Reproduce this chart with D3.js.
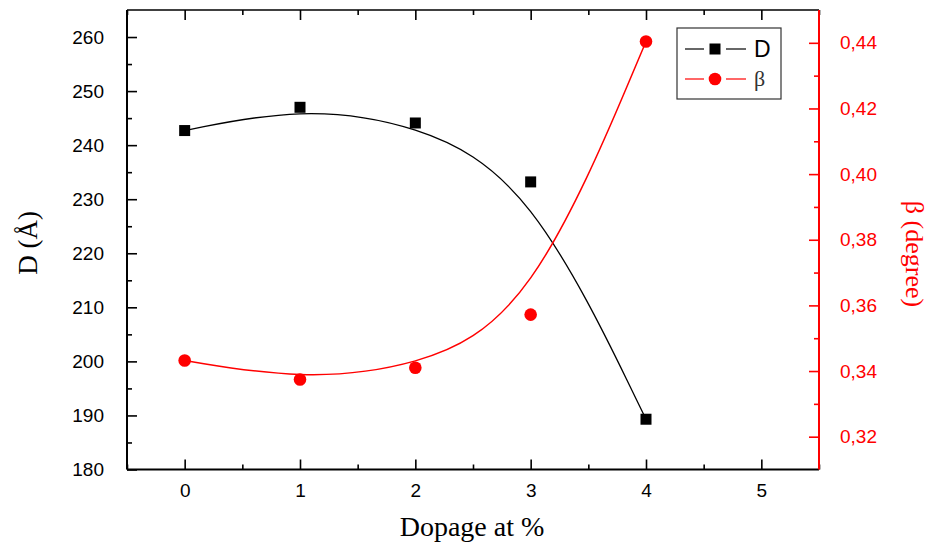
<!DOCTYPE html>
<html>
<head>
<meta charset="utf-8">
<script src="https://cdn.jsdelivr.net/npm/d3@7"></script>
<style>
  body { margin: 0; background: #fff; }
  svg { display: block; }
</style>
</head>
<body>
<svg width="933" height="545"></svg>
<script>
// datos
var dopage = [0, 1, 2, 3, 4];
var dValues = [242.7, 247.0, 244.1, 233.2, 189.3];
var betaValues = [0.3432, 0.3374, 0.3410, 0.3572, 0.4404];

var xTicks = [0, 1, 2, 3, 4, 5];
var yTicks = [180, 190, 200, 210, 220, 230, 240, 250, 260];
var y2Ticks = [0.32, 0.34, 0.36, 0.38, 0.40, 0.42, 0.44];

const M = { TOP: 10, BOTTOM: 75.5, LEFT: 127, RIGHT: 114 };
var width = 933 - M.LEFT - M.RIGHT;
var height = 545 - M.TOP - M.BOTTOM;

var svg = d3.select("svg");
var g = svg.append("g")
    .attr("transform", "translate(" + M.LEFT + "," + M.TOP + ")");

// escalas
var x = d3.scaleLinear().domain([-0.5, 5.5]).range([0, width]);
var y = d3.scaleLinear().domain([180, 265]).range([height, 0]);
var y2 = d3.scaleLinear().domain([0.31, 0.45]).range([height, 0]);

var tickFont = "'Liberation Sans', Arial, sans-serif";
var serif = "'Liberation Serif', 'Times New Roman', serif";

function styleAxis(sel, color, fs) {
  sel.select(".domain").remove();
  sel.selectAll("line").attr("stroke", color).attr("stroke-width", 1.6);
  sel.selectAll("text").attr("fill", color)
     .style("font-family", tickFont).style("font-size", fs + "px");
}

// minor ticks
var xMinor = d3.range(-0.5, 5.51, 0.5).filter(function(d) { return d % 1 !== 0; });
var yMinor = d3.range(185, 261, 10);
var y2Minor = [0.33, 0.35, 0.37, 0.39, 0.41, 0.43];

// eje inferior
var gx = g.append("g").attr("transform", "translate(0," + height + ")")
  .call(d3.axisBottom(x).tickValues(xTicks).tickFormat(d3.format("d"))
        .tickSizeInner(-10).tickSizeOuter(0).tickPadding(14));
styleAxis(gx, "#000", 19);
g.append("g").attr("transform", "translate(0," + height + ")")
  .call(d3.axisBottom(x).tickValues(xMinor).tickFormat("").tickSizeInner(-5).tickSizeOuter(0))
  .call(function(s) { styleAxis(s, "#000", 19); });

// eje superior
var gxt = g.append("g")
  .call(d3.axisTop(x).tickValues(xTicks).tickFormat("").tickSizeInner(-10).tickSizeOuter(0));
styleAxis(gxt, "#000", 19);
g.append("g")
  .call(d3.axisTop(x).tickValues(xMinor).tickFormat("").tickSizeInner(-5).tickSizeOuter(0))
  .call(function(s) { styleAxis(s, "#000", 19); });

// eje izquierdo
var gy = g.append("g")
  .call(d3.axisLeft(y).tickValues(yTicks).tickFormat(d3.format("d"))
        .tickSizeInner(-10).tickSizeOuter(0).tickPadding(23));
styleAxis(gy, "#000", 19);
g.append("g")
  .call(d3.axisLeft(y).tickValues(yMinor).tickFormat("").tickSizeInner(-5).tickSizeOuter(0))
  .call(function(s) { styleAxis(s, "#000", 19); });

// eje derecho
var comma = function(d) { return d3.format(".2f")(d).replace(".", ","); };
var gy2 = g.append("g").attr("transform", "translate(" + width + ",0)")
  .call(d3.axisRight(y2).tickValues(y2Ticks).tickFormat(comma)
        .tickSizeInner(-10).tickSizeOuter(0).tickPadding(21));
styleAxis(gy2, "#ff0000", 19);
g.append("g").attr("transform", "translate(" + width + ",0)")
  .call(d3.axisRight(y2).tickValues(y2Minor).tickFormat("").tickSizeInner(-5).tickSizeOuter(0))
  .call(function(s) { styleAxis(s, "#ff0000", 19); });

// lineas de los ejes
g.append("line").attr("x1", 0).attr("x2", width).attr("y1", 0).attr("y2", 0)
  .attr("stroke", "#000").attr("stroke-width", 1.6);
g.append("line").attr("x1", 0).attr("x2", width).attr("y1", height).attr("y2", height)
  .attr("stroke", "#000").attr("stroke-width", 2);
g.append("line").attr("x1", 0).attr("x2", 0).attr("y1", 0).attr("y2", height)
  .attr("stroke", "#000").attr("stroke-width", 2);
g.append("line").attr("x1", width).attr("x2", width).attr("y1", 0).attr("y2", height)
  .attr("stroke", "#ff0000").attr("stroke-width", 2);

// curvas (B-spline)
var lineD = d3.line().curve(d3.curveBasis)
  .x(function(d, i) { return x(dopage[i]); })
  .y(function(d) { return y(d); });
var lineB = d3.line().curve(d3.curveBasis)
  .x(function(d, i) { return x(dopage[i]); })
  .y(function(d) { return y2(d); });

g.append("path").datum(dValues).attr("d", lineD)
  .attr("fill", "none").attr("stroke", "#000").attr("stroke-width", 1.3);
g.append("path").datum(betaValues).attr("d", lineB)
  .attr("fill", "none").attr("stroke", "#ff0000").attr("stroke-width", 1.5);

// marcadores
g.selectAll(".sq").data(dValues).enter().append("rect")
  .attr("x", function(d, i) { return x(dopage[i]) - 5.5; })
  .attr("y", function(d) { return y(d) - 5.5; })
  .attr("width", 11).attr("height", 11).attr("fill", "#000");
g.selectAll(".ci").data(betaValues).enter().append("circle")
  .attr("cx", function(d, i) { return x(dopage[i]); })
  .attr("cy", function(d) { return y2(d); })
  .attr("r", 6.3).attr("fill", "#ff0000");

// leyenda
var leg = svg.append("g");
leg.append("rect").attr("x", 677).attr("y", 28).attr("width", 104).attr("height", 71)
  .attr("fill", "#fff").attr("stroke", "#333").attr("stroke-width", 1.2);
[[49, "#000", "D"], [79, "#ff0000", "\u03B2"]].forEach(function(r, i) {
  leg.append("line").attr("x1", 685).attr("x2", 704).attr("y1", r[0]).attr("y2", r[0])
    .attr("stroke", r[1]).attr("stroke-width", 1.2);
  leg.append("line").attr("x1", 726).attr("x2", 746).attr("y1", r[0]).attr("y2", r[0])
    .attr("stroke", r[1]).attr("stroke-width", 1.2);
  if (i === 0) {
    leg.append("rect").attr("x", 709.5).attr("y", r[0] - 5.5).attr("width", 11).attr("height", 11).attr("fill", r[1]);
  } else {
    leg.append("circle").attr("cx", 715).attr("cy", r[0]).attr("r", 6.3).attr("fill", r[1]);
  }
  leg.append("text").attr("x", 754).attr("y", r[0] + (i === 0 ? 8 : 7))
    .attr("fill", i === 0 ? "#000" : "#333")
    .style("font-family", i === 0 ? tickFont : serif)
    .style("font-size", i === 0 ? "23px" : "22px").text(r[2]);
});

// titulos
svg.append("text").attr("x", 472).attr("y", 536).attr("text-anchor", "middle")
  .style("font-family", serif).style("font-size", "28px").text("Dopage at %");
svg.append("text").attr("transform", "translate(37,243) rotate(-90)")
  .attr("text-anchor", "middle")
  .style("font-family", serif).style("font-size", "27px").text("D (\u00C5)");
svg.append("text").attr("transform", "translate(906,254) rotate(90)")
  .attr("text-anchor", "middle").attr("fill", "#ff0000")
  .style("font-family", serif).style("font-size", "26px").text("\u03B2 (degree)");
</script>
</body>
</html>
